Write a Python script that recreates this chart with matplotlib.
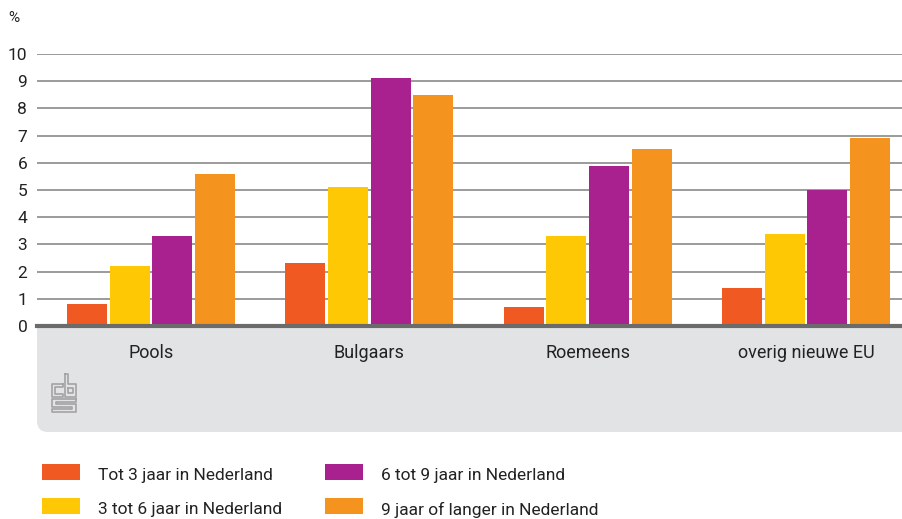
import matplotlib
matplotlib.use("Agg")
import matplotlib.pyplot as plt
import numpy as np
from matplotlib.patches import FancyBboxPatch, Rectangle
from matplotlib.lines import Line2D

plt.rcParams["font.family"] = ["Roboto", "DejaVu Sans"]

categories = ["Pools", "Bulgaars", "Roemeens", "overig nieuwe EU"]
series_names = [
    "Tot 3 jaar in Nederland",
    "3 tot 6 jaar in Nederland",
    "6 tot 9 jaar in Nederland",
    "9 jaar of langer in Nederland",
]
tot3 = [0.8, 2.3, 0.7, 1.4]
tot6 = [2.2, 5.1, 3.3, 3.4]
tot9 = [3.3, 9.1, 5.9, 5.0]
langer = [5.6, 8.5, 6.5, 6.9]
yticks = list(range(0, 11))

colors = ["#f05a22", "#fec805", "#a8218e", "#f4941e"]
W, H = 902, 519

fig = plt.figure(figsize=(W / 100, H / 100), dpi=100)


def fx(px):
    return px / W


def fy(py):
    return 1 - py / H


ax = fig.add_axes([fx(37), fy(326), fx(902) - fx(37), fy(54) - fy(326)])
ax.set_zorder(1)

x = np.arange(len(categories))
step, width = 0.1955, 0.183
for i, vals in enumerate([tot3, tot6, tot9, langer]):
    ax.bar(x + (i - 1.5) * step, vals, width=width, color=colors[i], zorder=3)

ax.set_xlim(-0.522, 3.44)
ax.set_ylim(0, 10)
ax.set_yticks(yticks)
ax.set_yticklabels([str(t) for t in yticks], fontsize=12.5, color="#222222")
ax.tick_params(axis="y", length=0, pad=7)
ax.set_xticks([])
ax.yaxis.grid(True, color="#808080", linewidth=1.1)
ax.set_axisbelow(True)
for s in ax.spines.values():
    s.set_visible(False)
ax.axhline(0, color="#6b6b6b", linewidth=3, zorder=4, clip_on=False)

fig.text(fx(14), fy(18), "%", fontsize=11, color="#222222", ha="center", va="center")

# grey band below the axis
band = FancyBboxPatch((fx(37), fy(432)), fx(930) - fx(37), fy(300) - fy(432),
                      boxstyle="round,pad=0,rounding_size=0.012",
                      transform=fig.transFigure, facecolor="#e2e3e5",
                      edgecolor="none", zorder=-1, mutation_aspect=W / H)
fig.patches.append(band)

for xi, cat in zip(x, categories):
    xp = ax.transData.transform((xi, 0))[0] / W
    fig.text(xp, fy(353), cat, fontsize=13, color="#222222", ha="center", va="center")

# cbs logo (approximate outline)
logo = [
    [(11, 10), (0, 10), (0, 23), (11, 23), (11, 20), (3, 20), (3, 13), (11, 13), (11, 10)],
    [(13, 0), (16, 0), (16, 10), (24, 10), (24, 23), (13, 23), (13, 0)],
    [(16, 14), (21, 14), (21, 19), (16, 19), (16, 14)],
    [(24, 25), (0, 25), (0, 33), (20, 33), (20, 35), (0, 35), (0, 38), (24, 38),
     (24, 30), (4, 30), (4, 28), (24, 28), (24, 25)],
]
for path in logo:
    xs = [fx(52 + p[0]) for p in path]
    ys = [fy(374 + p[1]) for p in path]
    fig.add_artist(Line2D(xs, ys, color="#a3a3a3", linewidth=1.2, transform=fig.transFigure))

# legend
leg_pos = [(42, 472), (42, 506), (325, 472), (325, 506)]
for (lx, ly), name, c in zip(leg_pos, series_names, colors):
    fig.patches.append(Rectangle((fx(lx), fy(ly + 8)), fx(38), fy(0) - fy(16),
                                 transform=fig.transFigure, facecolor=c, edgecolor="none"))
    fig.text(fx(lx + 56), fy(ly + 3.5), name, fontsize=12.5, color="#222222", ha="left", va="center")

fig.savefig("out.png", dpi=100)
